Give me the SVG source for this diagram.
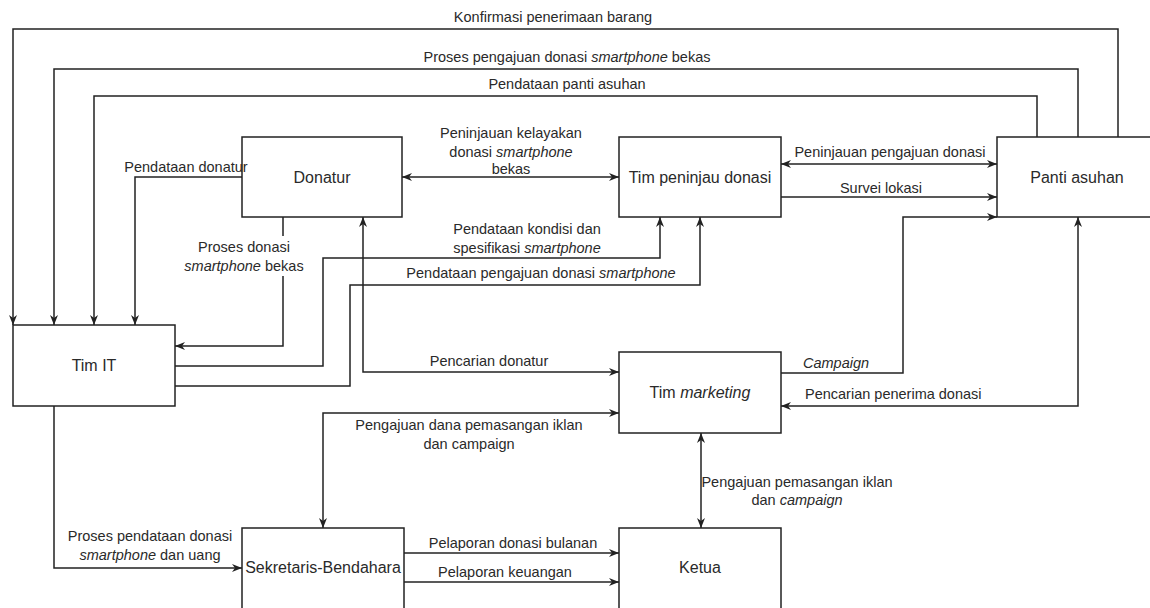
<svg xmlns="http://www.w3.org/2000/svg" width="1150" height="608" viewBox="0 0 1150 608">
<defs>
<style>
.node{fill:#fff;stroke:#222;stroke-width:1.5}
.nt{font-family:"Liberation Sans",Arial,sans-serif;font-size:16px;fill:#2a2a2a;text-anchor:middle}
.lb{font-family:"Liberation Sans",Arial,sans-serif;font-size:14.5px;fill:#2a2a2a;text-anchor:middle}
.ls{text-anchor:start}
.c{fill:none;stroke:#222;stroke-width:1.5;marker-end:url(#ah)}
.b{marker-start:url(#ah)}
</style>
<marker id="ah" viewBox="0 0 10 8" refX="10" refY="4" markerWidth="10" markerHeight="8" markerUnits="userSpaceOnUse" orient="auto-start-reverse">
<path d="M0,0 L10,4 L0,8 L3,4 z" fill="#222"/>
</marker>
</defs>
<rect width="1150" height="608" fill="#fff"/>
<g id="connectors">
<path class="c" d="M1118,137 V29 H13 V325"/>
<path class="c" d="M1078,137 V69 H54 V325"/>
<path class="c" d="M1037,137 V96 H94 V325"/>
<path class="c" d="M242,177 H135 V325"/>
<path class="c" d="M283,217 V346 H175"/>
<path class="c" d="M175,366 H323 V258 H660 V217"/>
<path class="c" d="M175,386 H350 V285 H700 V217"/>
<path class="c b" d="M363,217 V372 H619"/>
<path class="c b" d="M402,177 H619"/>
<path class="c b" d="M781,164 H997"/>
<path class="c" d="M781,197 H997"/>
<path class="c" d="M781,373 H903 V217 H997"/>
<path class="c b" d="M1078,217 V406 H781"/>
<path class="c b" d="M619,413 H323 V528"/>
<path class="c b" d="M701,433 V528"/>
<path class="c" d="M54,406 V568 H242"/>
<path class="c" d="M404,553 H619"/>
<path class="c" d="M404,582 H619"/>
</g>
<g id="donatur"><rect class="node" x="242" y="137" width="160" height="80"/><text class="nt" x="322" y="183">Donatur</text></g>
<g id="tim-peninjau"><rect class="node" x="619" y="137" width="162" height="80"/><text class="nt" x="700" y="183">Tim peninjau donasi</text></g>
<g id="panti-asuhan"><rect class="node" x="997" y="137" width="162" height="80"/><text class="nt" x="1077" y="183">Panti asuhan</text></g>
<g id="tim-it"><rect class="node" x="13" y="325" width="162" height="81"/><text class="nt" x="94" y="371">Tim IT</text></g>
<g id="tim-marketing"><rect class="node" x="619" y="352" width="162" height="81"/><text class="nt" x="700" y="398">Tim <tspan font-style="italic">marketing</tspan></text></g>
<g id="sekretaris"><rect class="node" x="242" y="528" width="162" height="82"/><text class="nt" x="323" y="573">Sekretaris-Bendahara</text></g>
<g id="ketua"><rect class="node" x="619" y="528" width="162" height="82"/><text class="nt" x="700" y="573">Ketua</text></g>
<g id="labels">
<text class="lb" x="553" y="22">Konfirmasi penerimaan barang</text>
<text class="lb" x="567" y="62">Proses pengajuan donasi <tspan font-style="italic">smartphone</tspan> bekas</text>
<text class="lb" x="567" y="89">Pendataan panti asuhan</text>
<text class="lb" x="511" y="138">Peninjauan kelayakan</text>
<text class="lb" x="511" y="157">donasi <tspan font-style="italic">smartphone</tspan></text>
<text class="lb" x="511" y="174">bekas</text>
<text class="lb" x="186" y="172">Pendataan donatur</text>
<text class="lb" x="890" y="157">Peninjauan pengajuan donasi</text>
<text class="lb" x="881" y="193">Survei lokasi</text>
<rect x="182" y="236" width="124" height="40" fill="#fff"/>
<text class="lb" x="244" y="252">Proses donasi</text>
<text class="lb" x="244" y="271"><tspan font-style="italic">smartphone</tspan> bekas</text>
<text class="lb" x="527" y="234">Pendataan kondisi dan</text>
<text class="lb" x="527" y="253">spesifikasi <tspan font-style="italic">smartphone</tspan></text>
<text class="lb" x="541" y="278">Pendataan pengajuan donasi <tspan font-style="italic">smartphone</tspan></text>
<text class="lb" x="489" y="366">Pencarian donatur</text>
<text class="lb ls" x="803" y="368" font-style="italic">Campaign</text>
<text class="lb ls" x="805" y="399">Pencarian penerima donasi</text>
<text class="lb" x="469" y="430">Pengajuan dana pemasangan iklan</text>
<text class="lb" x="469" y="449">dan campaign</text>
<text class="lb" x="797" y="487">Pengajuan pemasangan iklan</text>
<text class="lb" x="797" y="505">dan <tspan font-style="italic">campaign</tspan></text>
<text class="lb" x="150" y="541">Proses pendataan donasi</text>
<text class="lb" x="150" y="560"><tspan font-style="italic">smartphone</tspan> dan uang</text>
<text class="lb" x="513" y="548">Pelaporan donasi bulanan</text>
<text class="lb" x="505" y="577">Pelaporan keuangan</text>
</g>
</svg>
